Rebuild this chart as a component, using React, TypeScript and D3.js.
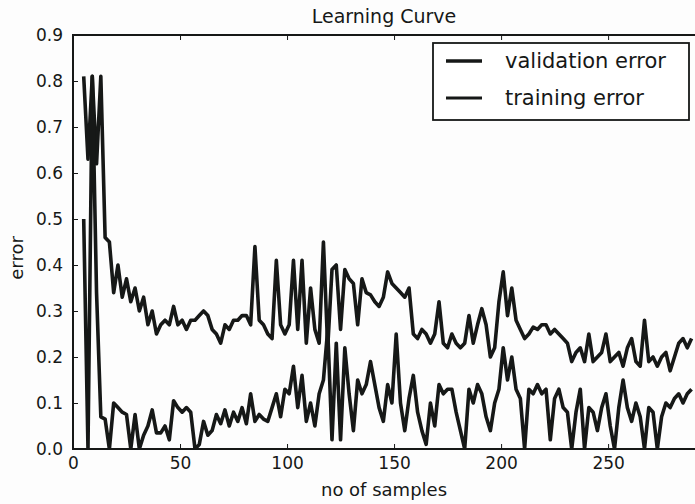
import React, { useRef, useEffect } from 'react'
import { select, scaleLinear, axisBottom, axisLeft, axisTop, line, format } from 'd3'

// sample counts shared by both curves
const samples = [
  5, 7, 9, 11, 13, 15, 17, 19, 21, 23, 25, 27, 29, 31, 33, 35, 37, 39, 41, 43,
  45, 47, 49, 51, 53, 55, 57, 59, 61, 63, 65, 67, 69, 71, 73, 75, 77, 79, 81, 83,
  85, 87, 89, 91, 93, 95, 97, 99, 101, 103, 105, 107, 109, 111, 113, 115, 117, 119, 121, 123,
  125, 127, 129, 131, 133, 135, 137, 139, 141, 143, 145, 147, 149, 151, 153, 155, 157, 159, 161, 163,
  165, 167, 169, 171, 173, 175, 177, 179, 181, 183, 185, 187, 189, 191, 193, 195, 197, 199, 201, 203,
  205, 207, 209, 211, 213, 215, 217, 219, 221, 223, 225, 227, 229, 231, 233, 235, 237, 239, 241, 243,
  245, 247, 249, 251, 253, 255, 257, 259, 261, 263, 265, 267, 269, 271, 273, 275, 277, 279, 281, 283,
  285, 287, 289,
]

const validationError = [
  0.81, 0.63, 0.81, 0.62, 0.81, 0.46, 0.45, 0.34, 0.4, 0.33, 0.37, 0.32, 0.35, 0.3, 0.33, 0.27, 0.3, 0.25, 0.27, 0.28,
  0.27, 0.31, 0.27, 0.28, 0.26, 0.28, 0.28, 0.29, 0.3, 0.29, 0.26, 0.25, 0.23, 0.27, 0.26, 0.28, 0.28, 0.29, 0.29, 0.27,
  0.44, 0.28, 0.27, 0.25, 0.24, 0.41, 0.27, 0.25, 0.27, 0.41, 0.26, 0.41, 0.23, 0.35, 0.26, 0.23, 0.45, 0.22, 0.39, 0.4,
  0.26, 0.39, 0.37, 0.36, 0.27, 0.37, 0.34, 0.335, 0.32, 0.31, 0.33, 0.385, 0.36, 0.35, 0.34, 0.33, 0.35, 0.25, 0.24, 0.26,
  0.25, 0.23, 0.25, 0.32, 0.23, 0.22, 0.25, 0.23, 0.22, 0.23, 0.29, 0.23, 0.27, 0.305, 0.27, 0.2, 0.22, 0.32, 0.385, 0.29,
  0.35, 0.28, 0.26, 0.24, 0.25, 0.265, 0.26, 0.27, 0.27, 0.25, 0.26, 0.25, 0.24, 0.23, 0.19, 0.21, 0.22, 0.19, 0.25, 0.19,
  0.2, 0.21, 0.25, 0.19, 0.2, 0.21, 0.18, 0.22, 0.24, 0.19, 0.18, 0.28, 0.19, 0.2, 0.18, 0.2, 0.21, 0.17, 0.2, 0.23,
  0.24, 0.22, 0.24,
]

const trainingError = [
  0.5, 0.0, 0.81, 0.34, 0.07, 0.065, 0.0, 0.1, 0.09, 0.08, 0.075, 0.0, 0.075, 0.0, 0.03, 0.05, 0.085, 0.035, 0.035, 0.05,
  0.02, 0.105, 0.09, 0.08, 0.09, 0.08, 0.0, 0.01, 0.06, 0.03, 0.04, 0.075, 0.055, 0.085, 0.05, 0.08, 0.06, 0.09, 0.055, 0.12,
  0.06, 0.075, 0.065, 0.06, 0.09, 0.12, 0.07, 0.13, 0.12, 0.18, 0.09, 0.16, 0.06, 0.1, 0.05, 0.12, 0.15, 0.26, 0.02, 0.23,
  0.02, 0.22, 0.12, 0.04, 0.15, 0.12, 0.14, 0.19, 0.14, 0.09, 0.06, 0.14, 0.1, 0.25, 0.1, 0.04, 0.11, 0.16, 0.08, 0.04,
  0.01, 0.1, 0.05, 0.14, 0.12, 0.13, 0.13, 0.08, 0.04, 0.0, 0.13, 0.1, 0.14, 0.12, 0.07, 0.04, 0.1, 0.13, 0.22, 0.15,
  0.2, 0.13, 0.11, 0.0, 0.13, 0.12, 0.14, 0.12, 0.13, 0.02, 0.11, 0.13, 0.09, 0.08, 0.0, 0.08, 0.13, 0.0, 0.09, 0.08,
  0.04, 0.09, 0.12, 0.05, 0.0, 0.09, 0.15, 0.09, 0.06, 0.1, 0.07, 0.0, 0.09, 0.08, 0.0, 0.07, 0.1, 0.09, 0.11, 0.12,
  0.1, 0.12, 0.13,
]

const xTicks = [0, 50, 100, 150, 200, 250]
const yTicks = [0, 0.1, 0.2, 0.3, 0.4, 0.5, 0.6, 0.7, 0.8, 0.9]
const legendLabels = ['validation error', 'training error']

const WIDTH = 695
const HEIGHT = 504
const margin = { top: 35, right: 0, bottom: 55, left: 73 }
const INK = '#161817'
const FONT = '"DejaVu Sans", Verdana, sans-serif'

export default function App() {
  const svgRef = useRef<SVGSVGElement>(null)

  useEffect(() => {
    const svg = select(svgRef.current)
    svg.selectAll('*').remove()

    const x = scaleLinear()
      .domain([0, 290.6])
      .range([margin.left, WIDTH - margin.right])
    const y = scaleLinear()
      .domain([0, 0.9])
      .range([HEIGHT - margin.bottom, margin.top])

    const plotW = WIDTH - margin.right - margin.left
    const plotH = HEIGHT - margin.bottom - margin.top

    svg
      .append('defs')
      .append('clipPath')
      .attr('id', 'plot-clip')
      .append('rect')
      .attr('x', margin.left)
      .attr('y', margin.top)
      .attr('width', plotW)
      .attr('height', plotH)

    // data lines
    const series = [validationError, trainingError]
    const pathGen = line<number>()
      .x((_, i) => x(samples[i]))
      .y(d => y(d))
    svg
      .append('g')
      .attr('clip-path', 'url(#plot-clip)')
      .selectAll('path')
      .data(series)
      .join('path')
      .attr('d', d => pathGen(d))
      .attr('fill', 'none')
      .attr('stroke', INK)
      .attr('stroke-width', 3.6)
      .attr('stroke-linejoin', 'round')

    // axes, matplotlib style inward ticks
    const xAxis = svg
      .append('g')
      .attr('transform', `translate(0,${HEIGHT - margin.bottom})`)
      .call(axisBottom(x).tickValues(xTicks).tickSize(-5).tickPadding(8).tickFormat(format('d')))
    const yAxis = svg
      .append('g')
      .attr('transform', `translate(${margin.left},0)`)
      .call(axisLeft(y).tickValues(yTicks).tickSize(-5).tickPadding(10).tickFormat(format('.1f')))
    const topAxis = svg
      .append('g')
      .attr('transform', `translate(0,${margin.top})`)
      .call(axisTop(x).tickValues(xTicks).tickSize(-5).tickFormat(() => ''))

    ;[xAxis, yAxis, topAxis].forEach(g => {
      g.select('.domain').remove()
      g.selectAll('line').attr('stroke', INK).attr('stroke-width', 1)
      g.selectAll('text')
        .attr('fill', INK)
        .style('font-family', FONT)
        .style('font-size', '17px')
    })

    // frame
    svg
      .append('rect')
      .attr('x', margin.left)
      .attr('y', margin.top)
      .attr('width', plotW + 4)
      .attr('height', plotH)
      .attr('fill', 'none')
      .attr('stroke', INK)
      .attr('stroke-width', 2)

    // title and labels
    svg
      .append('text')
      .attr('x', margin.left + plotW / 2)
      .attr('y', 23)
      .attr('text-anchor', 'middle')
      .attr('fill', INK)
      .style('font-family', FONT)
      .style('font-size', '19px')
      .text('Learning Curve')
    svg
      .append('text')
      .attr('x', margin.left + plotW / 2)
      .attr('y', 496)
      .attr('text-anchor', 'middle')
      .attr('fill', INK)
      .style('font-family', FONT)
      .style('font-size', '18px')
      .text('no of samples')
    svg
      .append('text')
      .attr('transform', `translate(23,258) rotate(-90)`)
      .attr('text-anchor', 'middle')
      .attr('fill', INK)
      .style('font-family', FONT)
      .style('font-size', '18px')
      .text('error')

    // legend
    const legend = svg.append('g').attr('transform', 'translate(433,43)')
    legend
      .append('rect')
      .attr('width', 256)
      .attr('height', 77)
      .attr('fill', '#fff')
      .attr('stroke', INK)
      .attr('stroke-width', 1.8)
    const items = legend
      .selectAll('g.item')
      .data(legendLabels)
      .join('g')
      .attr('class', 'item')
      .attr('transform', (_, i) => `translate(0,${18 + i * 37})`)
    items
      .append('line')
      .attr('x1', 13)
      .attr('x2', 49)
      .attr('stroke', INK)
      .attr('stroke-width', (_, i) => (i === 0 ? 3.4 : 2.8))
    items
      .append('text')
      .attr('x', 72)
      .attr('y', 7)
      .attr('fill', INK)
      .style('font-family', FONT)
      .style('font-size', '21px')
      .text(d => d)
  }, [])

  return (
    <svg
      ref={svgRef}
      width={WIDTH}
      height={HEIGHT}
      style={{ position: 'absolute', left: 0, top: 0, display: 'block', background: '#fdfdfd' }}
    />
  )
}
